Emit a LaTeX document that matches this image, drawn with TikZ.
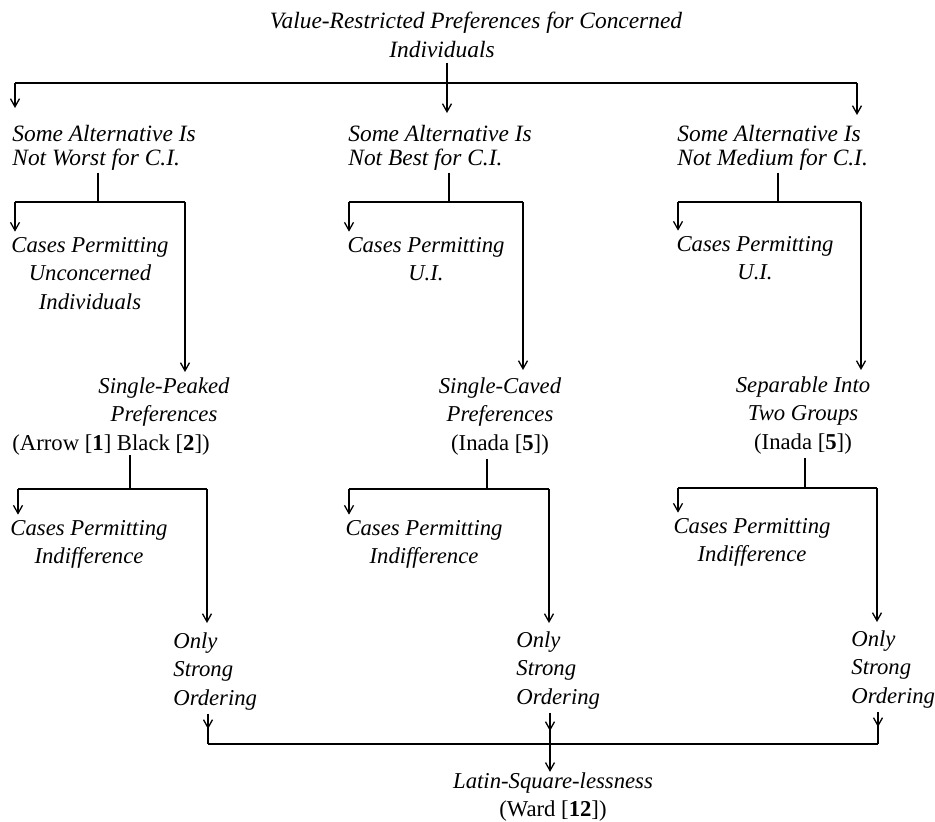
\documentclass[tikz,border=0pt]{standalone}
\usepackage{fontspec}
\setmainfont{Liberation Serif}
\usetikzlibrary{arrows.meta}
\newcommand{\stackL}[1]{\begin{tabular}[t]{@{}l@{}}#1\end{tabular}}
\newcommand{\stackC}[1]{\begin{tabular}[t]{@{}c@{}}#1\end{tabular}}
\tikzset{
  lone/.style={inner sep=0pt, font=\fontsize{11.7}{12}\selectfont\itshape},
  ltwo/.style={inner sep=0pt, font=\fontsize{11.35}{14.25}\selectfont\itshape},
  citetxt/.style={inner sep=0pt, font=\fontsize{11.35}{14.25}\selectfont\upshape},
  conn/.style={line width=0.65pt},
  arr/.style={conn,-{Straight Barb[length=4pt,width=4.5pt]}},
}
\begin{document}
\begin{tikzpicture}[x=0.5pt,y=-0.5pt]
\useasboundingbox (0,0) rectangle (935,821);

% ---------- texts ----------
\node[lone,anchor=base] (t1) at (476,28) {Value-Restricted Preferences for Concerned};
\node[lone,anchor=base] (t2) at (442,57) {Individuals};

\node[lone,anchor=base west] (a) at (12,141) {\stackL{Some Alternative Is\\Not Worst for C.I.}};
\node[lone,anchor=base west] (b) at (348,141) {\stackL{Some Alternative Is\\Not Best for C.I.}};
\node[lone,anchor=base west] (c) at (677,141) {\stackL{Some Alternative Is\\Not Medium for C.I.}};

\node[ltwo,anchor=base] (ua) at (90,252) {\stackC{Cases Permitting\\Unconcerned\\Individuals}};
\node[ltwo,anchor=base] (ub) at (426,252) {\stackC{Cases Permitting\\U.I.}};
\node[ltwo,anchor=base] (uc) at (755,251) {\stackC{Cases Permitting\\U.I.}};

\node[ltwo,anchor=base] (sp) at (164,393) {\stackC{Single-Peaked\\Preferences}};
\node[citetxt,anchor=base] (spc) at (111,450) {(Arrow [\textbf{1}] Black [\textbf{2}])};
\node[ltwo,anchor=base] (sc) at (500,393) {\stackC{Single-Caved\\Preferences\\\upshape(Inada [\textbf{5}])}};
\node[ltwo,anchor=base] (sg) at (803,392) {\stackC{Separable Into\\Two Groups\\\upshape(Inada [\textbf{5}])}};

\node[ltwo,anchor=base] (ia) at (89,535) {\stackC{Cases Permitting\\Indifference}};
\node[ltwo,anchor=base] (ib) at (424,535) {\stackC{Cases Permitting\\Indifference}};
\node[ltwo,anchor=base] (ic) at (752,533) {\stackC{Cases Permitting\\Indifference}};

\node[ltwo,anchor=base west] (oa) at (173,648) {\stackL{Only\\Strong\\Ordering}};
\node[ltwo,anchor=base west] (ob) at (516,647) {\stackL{Only\\Strong\\Ordering}};
\node[ltwo,anchor=base west] (oc) at (851,646) {\stackL{Only\\Strong\\Ordering}};

\node[ltwo,anchor=base] (ls) at (553,788) {Latin-Square-lessness};
\node[citetxt,anchor=base] (wd) at (553,816) {(Ward [\textbf{12}])};

% ---------- level 1 connectors ----------
\coordinate (h0) at (447,83);
\coordinate (h0l) at (15,83);
\coordinate (h0r) at (857,83);
\coordinate (ea) at (15,108);
\coordinate (eb) at (447,113);
\coordinate (ec) at (857,115);
\draw[conn] ([yshift=-2.5pt]t2.south -| h0) -- (h0);
\draw[conn] (h0l) -- (h0r);
\draw[arr] (h0l) -- (ea);
\draw[arr] (h0) -- (eb);
\draw[arr] (h0r) -- (ec);

% ---------- level 2 connectors ----------
% left
\coordinate (ja) at (98,202);
\coordinate (jal) at (15,202);
\coordinate (jar) at (185,202);
\draw[conn] (a.south -| ja) -- (ja);
\draw[conn] (jal) -- (jar);
\draw[arr] (jal) -- (jal |- ua.north);
\coordinate (spt) at (185,372);
\draw[arr] (jar) -- (spt);
% middle
\coordinate (jb) at (449,202);
\coordinate (jbl) at (349,202);
\coordinate (jbr) at (523,202);
\draw[conn] (b.south -| jb) -- (jb);
\draw[conn] (jbl) -- (jbr);
\draw[arr] (jbl) -- (jbl |- ub.north);
\coordinate (sct) at (523,370);
\draw[arr] (jbr) -- (sct);
% right
\coordinate (jc) at (778,202);
\coordinate (jcl) at (678,202);
\coordinate (jcr) at (861,202);
\draw[conn] (c.south -| jc) -- (jc);
\draw[conn] (jcl) -- (jcr);
\draw[arr] (jcl) -- (jcl |- uc.north);
\coordinate (sgt) at (861,370);
\draw[arr] (jcr) -- (sgt);

% ---------- level 3 connectors ----------
% left
\coordinate (ka) at (130,489);
\coordinate (kal) at (18,489);
\coordinate (kar) at (207,489);
\draw[conn] (spc.south -| ka) -- (ka);
\draw[conn] (kal) -- (kar);
\draw[arr] (kal) -- (kal |- ia.north);
\coordinate (oat) at (207,623);
\draw[arr] (kar) -- (oat);
% middle
\coordinate (kb) at (487,489);
\coordinate (kbl) at (349,489);
\coordinate (kbr) at (549,489);
\draw[conn] (sc.south -| kb) -- (kb);
\draw[conn] (kbl) -- (kbr);
\draw[arr] (kbl) -- (kbl |- ib.north);
\coordinate (obt) at (549,623);
\draw[arr] (kbr) -- (obt);
% right
\coordinate (kc) at (805,488);
\coordinate (kcl) at (678,488);
\coordinate (kcr) at (877,488);
\draw[conn] (sg.south -| kc) -- (kc);
\draw[conn] (kcl) -- (kcr);
\draw[arr] (kcl) -- (kcl |- ic.north);
\coordinate (oct) at (877,622);
\draw[arr] (kcr) -- (oct);

% ---------- bottom connectors ----------
\coordinate (m1) at (208,744);
\coordinate (m2) at (550,744);
\coordinate (m3) at (878,744);
\coordinate (a1) at (208,729);
\coordinate (a2) at (550,731);
\coordinate (a3) at (878,727);
\draw[conn] (oa.south -| m1) -- (m1);
\draw[arr] (oa.south -| m1) -- (a1);
\draw[conn] (ob.south -| m2) -- (m2);
\draw[arr] (ob.south -| m2) -- (a2);
\draw[conn] (oc.south -| m3) -- (m3);
\draw[arr] (oc.south -| m3) -- (a3);
\draw[conn] (m1) -- (m3);
\draw[arr] (m2) -- (m2 |- ls.north);
\end{tikzpicture}
\end{document}
